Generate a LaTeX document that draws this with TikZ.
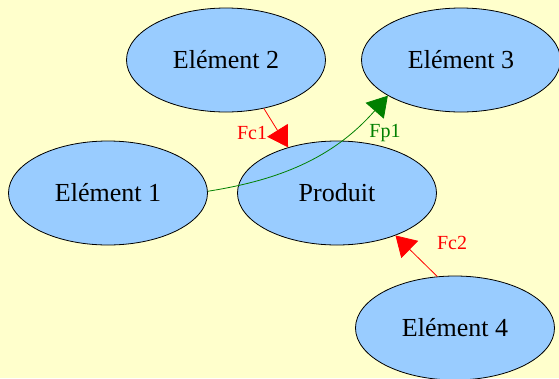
\documentclass[tikz,border=0pt]{standalone}
\usepackage{fontspec}
\setmainfont{Liberation Serif}
\usetikzlibrary{shapes.geometric,arrows.meta}
\definecolor{bgyellow}{HTML}{FFFFCC}
\definecolor{elblue}{HTML}{99CCFF}
\definecolor{fgreen}{HTML}{008000}
\tikzset{
  elem/.style={ellipse, draw=black, line width=0.8pt, fill=elblue,
    minimum width=199pt, minimum height=104pt, inner sep=0pt,
    font=\fontsize{26}{30}\selectfont},
  flow/.style={line width=0.8pt, -{Triangle[length=20pt,width=24pt]}},
  flabel/.style={font=\fontsize{20}{24}\selectfont, inner sep=0pt}
}
\begin{document}
\begin{tikzpicture}[x=1pt,y=-1pt]
\fill[bgyellow] (0,0) rectangle (559,378);
\useasboundingbox (0,0) rectangle (559,378);
\clip (0,0) rectangle (559,378);
\node[elem] (e2) at (226,60) {Elément 2};
\node[elem] (e3) at (461,60) {Elément 3};
\node[elem] (e1) at (108,193) {Elément 1};
\node[elem] (prod) at (337,193) {Produit};
\node[elem] (e4) at (455,328) {Elément 4};
\draw[flow, red] (e2.-52) -- (prod.137);
\draw[flow, red] (e4.109) -- (prod.-36);
\draw[flow, fgreen] (e1.1) .. controls +(70,-11) and +(-55,63) .. (e3.206);
\node[flabel, text=red] (lfc1) at (252,133) {Fc1};
\node[flabel, text=fgreen] (lfp1) at (385,133) {Fp1};
\node[flabel, text=red] (lfc2) at (452,243) {Fc2};
\end{tikzpicture}
\end{document}
